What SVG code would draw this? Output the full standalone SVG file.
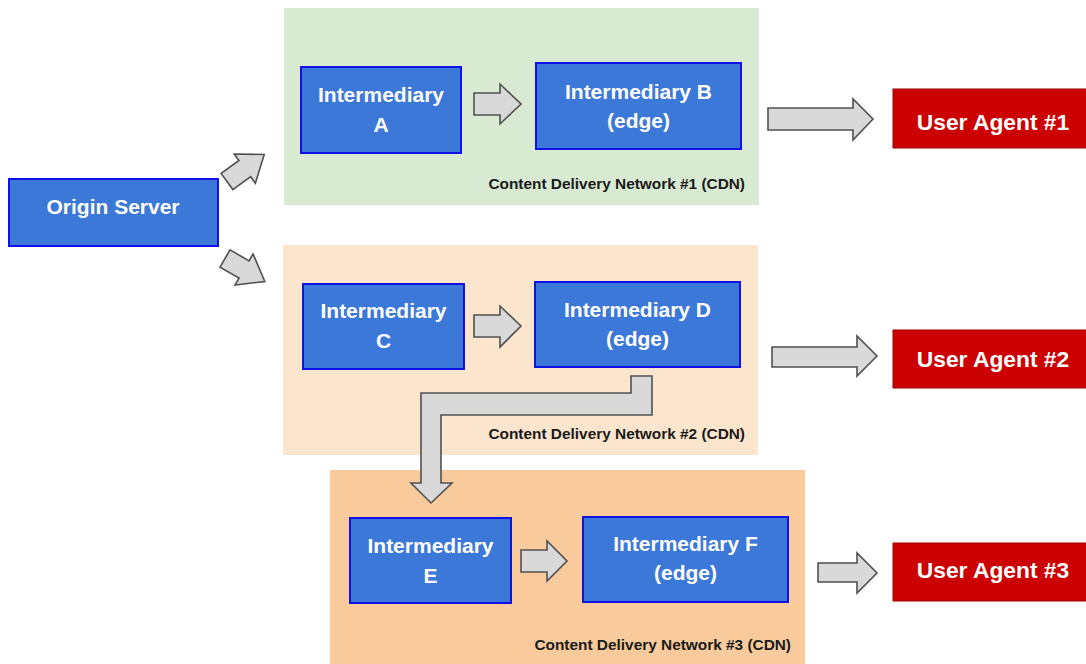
<svg xmlns="http://www.w3.org/2000/svg" width="1086" height="664" viewBox="0 0 1086 664">
<style>
.cdn1{fill:#d9ead3}
.cdn2{fill:#fce5cd}
.cdn3{fill:#f9cb9c}
.node{fill:#3c78d8;stroke:#1010e8;stroke-width:2}
.ua{fill:#cc0000;stroke:#a00000;stroke-width:1}
.t{font-family:"Liberation Sans",Arial,sans-serif;font-weight:bold;font-size:21px;fill:#ffffff;text-anchor:middle}
.tu{font-family:"Liberation Sans",Arial,sans-serif;font-weight:bold;font-size:22.8px;fill:#ffffff;text-anchor:middle}
.lbl{font-family:"Liberation Sans",Arial,sans-serif;font-weight:bold;font-size:15.4px;fill:#1a1a1a;text-anchor:end}
.arr{fill:#d9d9d9;stroke:#505050;stroke-width:1.6;stroke-linejoin:miter}
</style>
<rect width="1086" height="664" fill="#ffffff"/>
<g id="cdn1">
<rect class="cdn1" x="284" y="8" width="475" height="197"/>
<text class="lbl" x="745" y="189">Content Delivery Network #1 (CDN)</text>
</g>
<g id="cdn2">
<rect class="cdn2" x="283" y="245" width="475" height="210"/>
<text class="lbl" x="745" y="439">Content Delivery Network #2 (CDN)</text>
</g>
<g id="cdn3">
<rect class="cdn3" x="330" y="470" width="475" height="194"/>
<text class="lbl" x="791" y="650">Content Delivery Network #3 (CDN)</text>
</g>
<g id="origin">
<rect class="node" x="9" y="179" width="209" height="67"/>
<text class="t" x="113" y="214">Origin Server</text>
</g>
<g id="intA">
<rect class="node" x="301" y="67" width="160" height="86"/>
<text class="t" x="381" y="102">Intermediary</text>
<text class="t" x="381" y="132">A</text>
</g>
<g id="intB">
<rect class="node" x="536" y="63" width="205" height="86"/>
<text class="t" x="638.5" y="99">Intermediary B</text>
<text class="t" x="638.5" y="128">(edge)</text>
</g>
<g id="intC">
<rect class="node" x="303" y="284" width="161" height="85"/>
<text class="t" x="383.5" y="318">Intermediary</text>
<text class="t" x="383.5" y="348">C</text>
</g>
<g id="intD">
<rect class="node" x="535" y="282" width="205" height="85"/>
<text class="t" x="637.5" y="317">Intermediary D</text>
<text class="t" x="637.5" y="346">(edge)</text>
</g>
<g id="intE">
<rect class="node" x="350" y="518" width="161" height="85"/>
<text class="t" x="430.5" y="553">Intermediary</text>
<text class="t" x="430.5" y="583">E</text>
</g>
<g id="intF">
<rect class="node" x="583" y="517" width="205" height="85"/>
<text class="t" x="685.5" y="551">Intermediary F</text>
<text class="t" x="685.5" y="580">(edge)</text>
</g>
<g id="ua1">
<rect class="ua" x="893" y="89" width="200" height="59"/>
<text class="tu" x="993" y="130">User Agent #1</text>
</g>
<g id="ua2">
<rect class="ua" x="893" y="330" width="200" height="58"/>
<text class="tu" x="993" y="367">User Agent #2</text>
</g>
<g id="ua3">
<rect class="ua" x="893" y="543" width="200" height="58"/>
<text class="tu" x="993" y="578">User Agent #3</text>
</g>
<g id="connectors">
<polygon class="arr" points="0,-10 22,-10 22,-18 46,0 22,18 22,10 0,10" transform="translate(227,181.5) rotate(-36)"/>
<polygon class="arr" points="0,-10 22,-10 22,-18 46,0 22,18 22,10 0,10" transform="translate(225,258.5) rotate(30)"/>
<polygon class="arr" points="474,93 500,93 500,84 521,104 500,124 500,115 474,115"/>
<polygon class="arr" points="474,315 500,315 500,306 521,326 500,347 500,337 474,337"/>
<polygon class="arr" points="521,550 547,550 547,541 567,561 547,581 547,572 521,572"/>
<polygon class="arr" points="768,108 853,108 853,99 873,119 853,140 853,130 768,130"/>
<polygon class="arr" points="772,347 857,347 857,336 877,356 857,376 857,367 772,367"/>
<polygon class="arr" points="818,563 857,563 857,553 877,573 857,593 857,582 818,582"/>
<polygon class="arr" points="631,376 652,376 652,415 441,415 441,483 452,483 431,503 411,483 421,483 421,393 631,393"/>
</g>
</svg>
